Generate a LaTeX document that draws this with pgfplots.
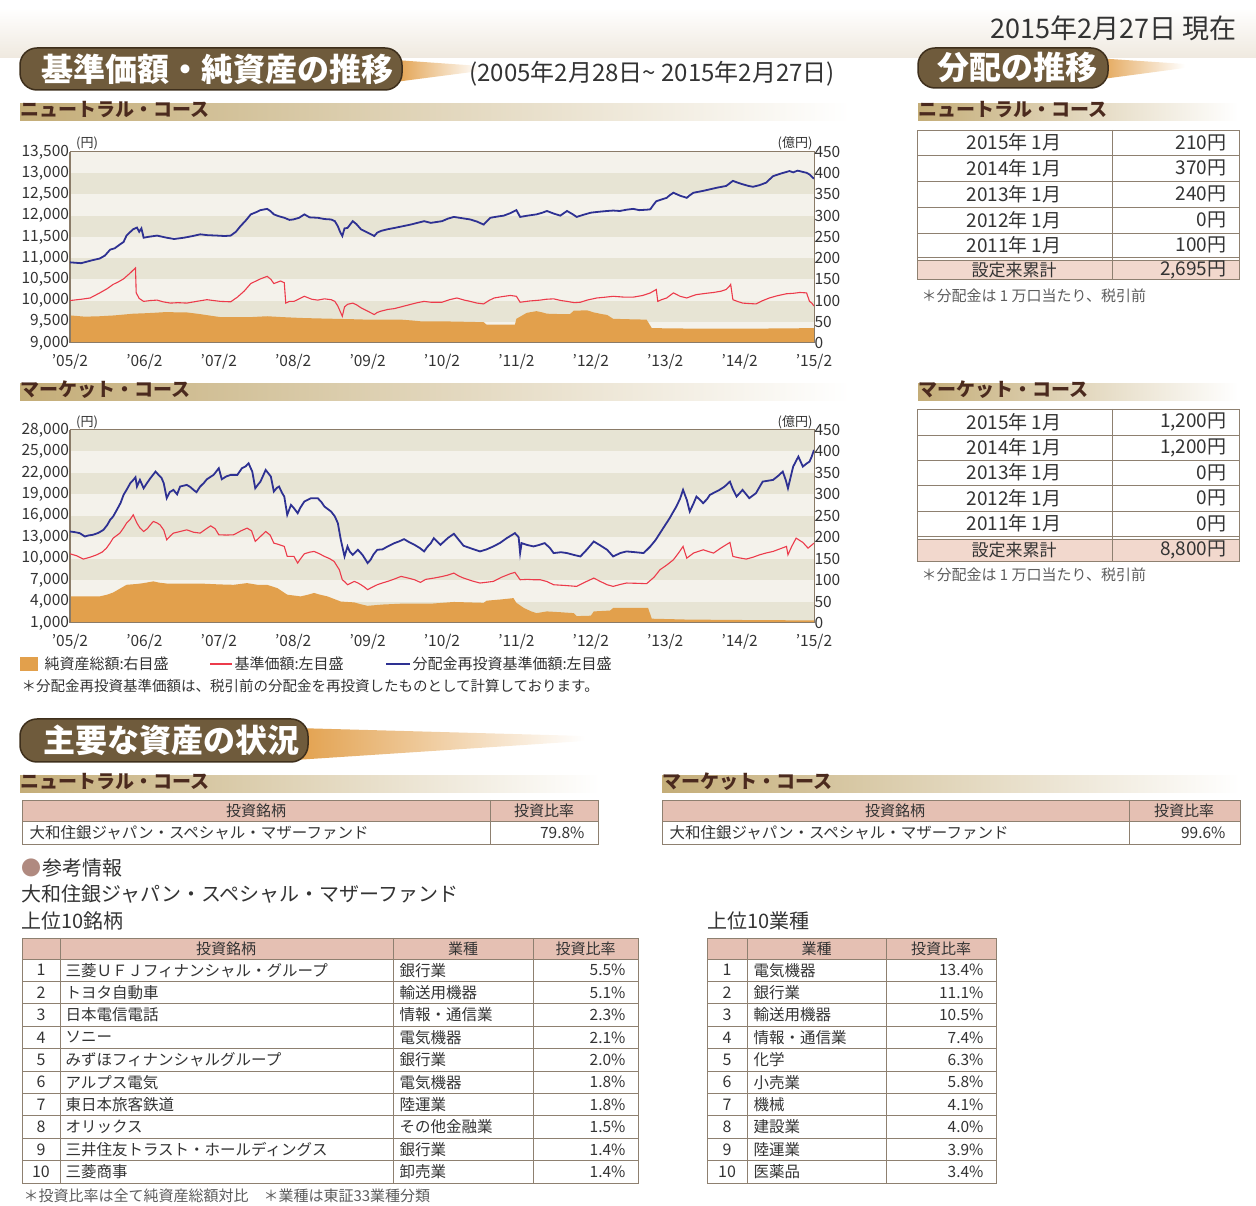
\documentclass[border=0pt]{standalone}
\usepackage{fontspec}
\setmainfont{Noto Sans CJK JP}
\usepackage{pgfplots}
\pgfplotsset{compat=1.18}
\definecolor{bandD}{HTML}{E7E4D4}
\definecolor{bandL}{HTML}{F4F2EB}
\definecolor{navy}{HTML}{2E3192}
\definecolor{redl}{HTML}{EC3B4B}
\definecolor{orng}{HTML}{E2A04C}
\definecolor{frame}{HTML}{8A7B68}
\definecolor{tline}{HTML}{8E8070}
\definecolor{pinkh}{HTML}{E5C0B3}
\definecolor{pinkr}{HTML}{F2D8CD}
\definecolor{subt}{HTML}{4B2A1E}
\definecolor{txt}{HTML}{333333}
\definecolor{brush}{HTML}{6F5B3C}
\definecolor{brushd}{HTML}{3E2F1C}
\definecolor{gold}{HTML}{C4AD78}
\definecolor{beige}{HTML}{EFE9DF}
\definecolor{dot}{HTML}{B08A80}
\newcommand\fs[1]{\fontsize{#1}{#1}\selectfont}
\pgfplotsset{
 chartR/.style={scale only axis, anchor=south west, width=744pt,
  xmin=0, xmax=10, ymin=0, ymax=450, ytick={0,50,...,450},
  xtick={0,...,10}, xticklabels={'05/2,'06/2,'07/2,'08/2,'09/2,'10/2,'11/2,'12/2,'13/2,'14/2,'15/2},
  yticklabel pos=right, axis line style={frame, line width=1pt},
  tick style={draw=none}, axis on top, scaled y ticks=false,
  ticklabel style={font=\fs{15.5}, text=txt},
  xticklabel style={yshift=-8pt},
  yticklabel style={xshift=-3pt},
  /pgf/number format/assume math mode=true},
 chartL/.style={scale only axis, anchor=south west, width=744pt,
  xmin=0, xmax=10, axis x line=none, axis y line*=left, xtick=\empty,
  axis line style={frame, line width=1pt}, tick style={draw=none},
  scaled y ticks=false,
  ticklabel style={font=\fs{15.5}, text=txt},
  yticklabel style={xshift=2.5pt},
  /pgf/number format/assume math mode=true,
  /pgf/number format/1000 sep={,}}
}
\begin{document}
\begin{tikzpicture}[x=1pt,y=1pt]
\useasboundingbox (0,0) rectangle (1256,1206);
% ---------------- Chart 1: neutral ----------------
\begin{axis}[chartR, at={(70pt,863pt)}, height=191pt]
\fill[bandL] (0,0) rectangle (10,50);
\fill[bandD] (0,50) rectangle (10,100);
\fill[bandL] (0,100) rectangle (10,150);
\fill[bandD] (0,150) rectangle (10,200);
\fill[bandL] (0,200) rectangle (10,250);
\fill[bandD] (0,250) rectangle (10,300);
\fill[bandL] (0,300) rectangle (10,350);
\fill[bandD] (0,350) rectangle (10,400);
\fill[bandL] (0,400) rectangle (10,450);
\addplot[fill=orng, draw=none] coordinates {(0,65) (0.2,62) (0.4,63) (0.6,65) (0.85,69) (1.0,70) (1.12,71) (1.3,73) (1.45,72) (1.57,72) (1.75,68) (1.9,64) (2.02,61) (2.2,61) (2.43,61) (2.65,63) (2.85,61) (3.1,59) (3.3,58) (3.55,57) (3.8,56) (4.0,55) (4.2,55) (4.45,55) (4.6,53) (4.72,51) (5.0,51) (5.3,50) (5.56,49) (5.6,43) (5.98,43) (6.0,57) (6.07,64) (6.14,71) (6.27,75) (6.35,72) (6.41,69) (6.6,68) (6.72,68) (6.77,76) (6.95,77) (7.04,72) (7.15,68) (7.22,66) (7.3,57) (7.5,56) (7.75,55) (7.82,35) (8.3,34) (8.73,34) (9.3,34) (10,35)} \closedcycle;
\end{axis}
\begin{axis}[chartL, at={(70pt,863pt)}, height=191pt, ymin=9000, ymax=13500, ytick={9000,9500,...,13500}]
\addplot[redl, line width=1.1pt] coordinates {(0,10000) (0.15,10030) (0.27,10060) (0.4,10180) (0.5,10280) (0.58,10380) (0.65,10440) (0.72,10510) (0.81,10650) (0.88,10770) (0.89,10180) (0.93,10050) (0.99,9980) (1.08,10000) (1.17,10010) (1.25,9970) (1.35,9940) (1.45,9950) (1.57,9940) (1.7,9980) (1.84,10020) (1.93,10000) (2.02,9980) (2.16,9970) (2.25,10080) (2.34,10220) (2.43,10400) (2.5,10460) (2.56,10510) (2.65,10570) (2.7,10500) (2.74,10400) (2.83,10460) (2.88,10420) (2.9,9940) (2.95,9980) (3.01,9980) (3.08,10040) (3.15,10100) (3.25,10030) (3.33,10010) (3.42,10040) (3.51,10020) (3.56,9980) (3.6,9870) (3.63,9750) (3.66,9630) (3.69,9850) (3.73,9910) (3.8,9940) (3.85,9900) (3.91,9830) (4.0,9750) (4.09,9670) (4.13,9720) (4.18,9750) (4.27,9790) (4.36,9810) (4.47,9860) (4.58,9910) (4.67,9950) (4.76,9980) (4.85,9960) (5.0,9960) (5.1,10020) (5.2,10060) (5.3,10010) (5.38,9980) (5.47,9940) (5.56,9920) (5.63,10000) (5.7,10060) (5.8,10090) (5.92,10120) (6.0,10100) (6.05,9960) (6.18,9990) (6.32,10010) (6.4,10030) (6.5,10040) (6.6,10000) (6.68,9980) (6.78,9950) (6.86,9960) (6.95,10010) (7.08,10060) (7.2,10080) (7.3,10100) (7.45,10080) (7.57,10080) (7.7,10120) (7.8,10180) (7.85,10230) (7.88,10260) (7.9,9980) (7.95,10020) (8.02,10060) (8.11,10180) (8.2,10100) (8.29,10060) (8.35,10100) (8.42,10140) (8.55,10170) (8.65,10190) (8.75,10220) (8.82,10260) (8.86,10330) (8.88,10380) (8.91,10020) (8.97,9980) (9.04,9940) (9.12,9930) (9.22,9920) (9.3,9990) (9.4,10060) (9.5,10110) (9.63,10160) (9.72,10170) (9.81,10190) (9.9,10180) (9.94,9980) (9.97,9940) (10.0,9870)};
\addplot[navy, line width=1.8pt] coordinates {(0,10900) (0.15,10880) (0.3,10950) (0.4,10990) (0.47,11060) (0.54,11200) (0.6,11230) (0.67,11320) (0.72,11380) (0.76,11530) (0.8,11600) (0.85,11680) (0.9,11720) (0.93,11620) (0.96,11700) (0.99,11480) (1.05,11500) (1.17,11530) (1.3,11480) (1.4,11450) (1.53,11480) (1.65,11520) (1.75,11560) (1.85,11540) (1.98,11530) (2.08,11520) (2.16,11530) (2.23,11620) (2.29,11750) (2.36,11880) (2.43,12030) (2.5,12080) (2.56,12130) (2.65,12160) (2.7,12100) (2.74,12030) (2.8,11990) (2.88,11950) (2.95,11900) (3.0,11910) (3.08,11950) (3.15,12030) (3.22,11960) (3.33,11950) (3.42,11920) (3.51,11910) (3.56,11870) (3.6,11750) (3.63,11620) (3.66,11520) (3.69,11700) (3.73,11710) (3.8,11870) (3.85,11800) (3.91,11680) (4.0,11600) (4.09,11520) (4.13,11600) (4.18,11640) (4.27,11680) (4.36,11710) (4.47,11750) (4.58,11790) (4.67,11830) (4.76,11870) (4.85,11830) (5.0,11870) (5.08,11930) (5.16,11970) (5.27,11940) (5.38,11910) (5.47,11860) (5.56,11790) (5.65,11950) (5.75,11980) (5.83,12000) (5.92,12060) (6.0,12130) (6.05,11970) (6.15,12000) (6.27,12030) (6.35,12070) (6.41,12110) (6.5,12050) (6.59,12000) (6.68,12110) (6.75,12040) (6.81,11970) (6.9,12020) (7.0,12070) (7.1,12090) (7.22,12110) (7.3,12120) (7.39,12110) (7.48,12140) (7.57,12160) (7.65,12130) (7.75,12140) (7.8,12150) (7.84,12250) (7.88,12340) (7.95,12380) (8.02,12420) (8.06,12480) (8.11,12540) (8.2,12470) (8.29,12420) (8.33,12480) (8.38,12540) (8.5,12580) (8.6,12620) (8.7,12660) (8.82,12700) (8.88,12780) (8.91,12820) (8.97,12780) (9.04,12740) (9.12,12700) (9.18,12680) (9.27,12720) (9.36,12780) (9.4,12850) (9.45,12930) (9.55,12990) (9.67,13050) (9.72,13020) (9.78,13060) (9.85,13030) (9.9,13010) (9.94,12970) (10.0,12870)};
\end{axis}
% ---------------- Chart 2: market ----------------
\begin{axis}[chartR, at={(70pt,583pt)}, height=193pt]
\fill[bandD] (0,0) rectangle (10,50);
\fill[bandL] (0,50) rectangle (10,100);
\fill[bandD] (0,100) rectangle (10,150);
\fill[bandL] (0,150) rectangle (10,200);
\fill[bandD] (0,200) rectangle (10,250);
\fill[bandL] (0,250) rectangle (10,300);
\fill[bandD] (0,300) rectangle (10,350);
\fill[bandL] (0,350) rectangle (10,400);
\fill[bandD] (0,400) rectangle (10,450);
\addplot[fill=orng, draw=none] coordinates {(0,62) (0.2,62) (0.4,62) (0.5,66) (0.58,71) (0.67,80) (0.76,89) (0.9,91) (0.99,93) (1.12,97) (1.2,94) (1.3,92) (1.5,92) (1.75,92) (2.0,90) (2.2,89) (2.38,93) (2.52,89) (2.65,89) (2.72,85) (2.79,81) (2.85,74) (2.92,66) (3.1,62) (3.2,66) (3.28,70) (3.36,66) (3.46,62) (3.55,56) (3.64,50) (3.82,48) (3.9,44) (4.0,40) (4.2,43) (4.45,45) (4.85,45) (5.16,49) (5.56,47) (5.6,52) (5.8,55) (5.96,58) (6.0,47) (6.1,35) (6.2,27) (6.27,23) (6.41,27) (6.6,25) (6.77,23) (6.81,16) (7.0,17) (7.04,27) (7.26,29) (7.3,35) (7.77,35) (7.82,10) (8.29,8) (9,7) (10,6)} \closedcycle;
\end{axis}
\begin{axis}[chartL, at={(70pt,583pt)}, height=193pt, ymin=1000, ymax=28000, ytick={1000,4000,...,28000}]
\addplot[redl, line width=1.1pt] coordinates {(0,10680) (0.09,10400) (0.18,9940) (0.27,10200) (0.36,10540) (0.43,10900) (0.49,11470) (0.54,12200) (0.58,12870) (0.67,13570) (0.72,14300) (0.76,14970) (0.81,15500) (0.85,16130) (0.9,14970) (0.94,14300) (0.99,13800) (1.04,14200) (1.08,14730) (1.12,15200) (1.17,15000) (1.21,14730) (1.26,14000) (1.3,12640) (1.35,13200) (1.39,13570) (1.48,13800) (1.57,14030) (1.66,13700) (1.75,13570) (1.82,14100) (1.89,14590) (1.95,14200) (2.0,13340) (2.1,13300) (2.2,13340) (2.3,13900) (2.38,14270) (2.44,13900) (2.49,12410) (2.55,13000) (2.63,13800) (2.69,13300) (2.74,12170) (2.8,12000) (2.88,11710) (2.92,10310) (3.01,10310) (3.06,9380) (3.1,10000) (3.15,10680) (3.22,10900) (3.28,11010) (3.35,10700) (3.42,10310) (3.49,10000) (3.55,9610) (3.62,8450) (3.66,7050) (3.7,6700) (3.73,6350) (3.78,6600) (3.82,6820) (3.87,6600) (3.91,6350) (3.96,6000) (4.0,5660) (4.06,6000) (4.13,6350) (4.2,6600) (4.27,6820) (4.36,7150) (4.45,7520) (4.54,7300) (4.63,7050) (4.71,6680) (4.78,7100) (4.89,7280) (5.0,7500) (5.08,7700) (5.16,7980) (5.22,7600) (5.29,7280) (5.4,6900) (5.51,6590) (5.6,6700) (5.69,6820) (5.8,7400) (5.92,7900) (5.98,8080) (6.05,7050) (6.15,7100) (6.23,7050) (6.32,7050) (6.41,6800) (6.5,6350) (6.65,6250) (6.81,6120) (6.92,6700) (7.04,7280) (7.13,6800) (7.22,6350) (7.3,6120) (7.4,6400) (7.48,6590) (7.62,6550) (7.75,6500) (7.85,7400) (7.93,8450) (8.02,9100) (8.11,9840) (8.18,10800) (8.24,11710) (8.29,10070) (8.38,10780) (8.51,11240) (8.58,11000) (8.65,10780) (8.75,11500) (8.87,12270) (8.91,10310) (9.0,10100) (9.09,9940) (9.18,10200) (9.27,10540) (9.36,10800) (9.45,11010) (9.55,11400) (9.63,11710) (9.65,10540) (9.7,11700) (9.76,12870) (9.85,12270) (9.92,11470) (10,12170)};
\addplot[navy, line width=1.8pt] coordinates {(0,13800) (0.07,13700) (0.13,13570) (0.2,13100) (0.25,13250) (0.31,13340) (0.38,13600) (0.45,14030) (0.5,14700) (0.54,15430) (0.58,15900) (0.63,16830) (0.68,17800) (0.72,18920) (0.77,19800) (0.81,20550) (0.85,21000) (0.88,21390) (0.9,20090) (0.94,21020) (0.99,19850) (1.03,20500) (1.08,21250) (1.15,22180) (1.19,21720) (1.23,21300) (1.26,20550) (1.3,18460) (1.34,19300) (1.39,19620) (1.44,19000) (1.48,20090) (1.57,20320) (1.62,20000) (1.66,19620) (1.7,19300) (1.75,20090) (1.8,20600) (1.84,21110) (1.93,21720) (2.0,22650) (2.04,21110) (2.1,21500) (2.16,21720) (2.25,21720) (2.31,22650) (2.36,22900) (2.4,23340) (2.45,22180) (2.49,19850) (2.53,20400) (2.56,20780) (2.63,22410) (2.7,21480) (2.74,19390) (2.78,19900) (2.81,20090) (2.85,19200) (2.88,18690) (2.92,16130) (2.97,17520) (3.01,17060) (3.06,16360) (3.1,17200) (3.15,17990) (3.24,18460) (3.33,18460) (3.38,17900) (3.42,17290) (3.51,16590) (3.56,15900) (3.6,14970) (3.64,12640) (3.69,10310) (3.73,11710) (3.76,11000) (3.8,10540) (3.87,11240) (3.93,10540) (3.97,9900) (4.0,9380) (4.04,9840) (4.08,10600) (4.13,11240) (4.2,11300) (4.27,11710) (4.36,12170) (4.42,12400) (4.49,12730) (4.56,12300) (4.63,11940) (4.7,11500) (4.76,11010) (4.8,11600) (4.85,12170) (4.89,12870) (4.98,11940) (5.08,12900) (5.16,13480) (5.22,12700) (5.29,11800) (5.4,11400) (5.51,11010) (5.6,11300) (5.69,11710) (5.78,12200) (5.87,12870) (5.98,13570) (6.03,13000) (6.05,10780) (6.07,12170) (6.15,11900) (6.23,11710) (6.3,11900) (6.38,12170) (6.45,11500) (6.5,10780) (6.6,10900) (6.68,10780) (6.78,10500) (6.86,10310) (6.95,11300) (7.04,12400) (7.12,11900) (7.22,11240) (7.3,10310) (7.4,10800) (7.48,11010) (7.6,10900) (7.71,10780) (7.8,11710) (7.87,12600) (7.93,13570) (8.0,14700) (8.06,15660) (8.1,16400) (8.15,17290) (8.2,18400) (8.24,19620) (8.29,18230) (8.33,16590) (8.38,17700) (8.42,18690) (8.47,18200) (8.51,17760) (8.56,18300) (8.6,18920) (8.67,19300) (8.73,19620) (8.8,20100) (8.87,20780) (8.91,19700) (8.96,18690) (9.04,19620) (9.13,18460) (9.22,19160) (9.31,20780) (9.38,20900) (9.45,21020) (9.52,21600) (9.58,22180) (9.62,21000) (9.65,19850) (9.72,22880) (9.79,24280) (9.85,22880) (9.9,23300) (9.94,23580) (9.97,24300) (10,25210)};
\end{axis}
% ---------------- page furniture (pixel coordinates, y downward) ----------------
\begin{scope}[shift={(0,1206)}, yscale=-1]
% top faded band
\shade[top color=white, bottom color=beige] (0,8) rectangle (1256,58);
\fill[white] (0,0) rectangle (1256,8);
% date
\node[anchor=east, text=txt, font=\fs{27}] at (1240,28) {2015年2月27日 現在};
% brush header 1
\shade[left color=orng, right color=white] (395,60) -- (480,66) -- (480,71) -- (395,82) -- cycle;
\fill[brush, rounded corners=17pt] (20,48) rectangle (402,90);
\draw[brushd, line width=1.5pt, rounded corners=17pt] (20,48) rectangle (402,90);
\node[anchor=west, text=white, font=\bfseries\fs{32}] at (38,69) {基準価額・純資産の推移};
\node[anchor=west, text=txt, font=\fs{24}] at (466,74) {(2005年2月28日\textasciitilde\ 2015年2月27日)};
% brush header 2
\shade[left color=orng, right color=white] (1095,58) -- (1185,64) -- (1185,68) -- (1095,80) -- cycle;
\fill[brush, rounded corners=17pt] (918,48) rectangle (1108,88);
\draw[brushd, line width=1.5pt, rounded corners=17pt] (918,48) rectangle (1108,88);
\node[anchor=west, text=white, font=\bfseries\fs{32}] at (934,67) {分配の推移};
% brush header 3
\shade[left color=orng, right color=white] (295,728) -- (585,736) -- (585,741) -- (295,760) -- cycle;
\fill[brush, rounded corners=17pt] (20,719) rectangle (308,762);
\draw[brushd, line width=1.5pt, rounded corners=17pt] (20,719) rectangle (308,762);
\node[anchor=west, text=white, font=\bfseries\fs{32}] at (40,740) {主要な資産の状況};
% sub headers with gradient bars
\foreach \x/\y/\xe/\t in {20/110/850/ニュートラル・コース, 20/390/850/マーケット・コース, 918/110/1238/ニュートラル・コース, 918/390/1238/マーケット・コース, 20/782/600/ニュートラル・コース, 662/782/1240/マーケット・コース}{
  \shade[left color=gold, right color=white] (\x,\y-6) rectangle (\xe,\y+11);
  \node[anchor=west, text=subt, font=\bfseries\fs{19}, inner sep=0pt] at (\x,\y) {\t};
}
% axis unit labels
\node[text=txt, font=\fs{13}] at (87,143) {(円)};
\node[text=txt, font=\fs{13}] at (795,143) {(億円)};
\node[text=txt, font=\fs{13}] at (87,422) {(円)};
\node[text=txt, font=\fs{13}] at (795,422) {(億円)};
% legend
\fill[orng] (20,657) rectangle (38,671);
\node[anchor=west, text=txt, font=\fs{15}] at (41,664) {純資産総額:右目盛};
\draw[redl, line width=1.2pt] (210,664) -- (232,664);
\node[anchor=west, text=txt, font=\fs{15}] at (231,664) {基準価額:左目盛};
\draw[navy, line width=2.2pt] (386,664) -- (410,664);
\node[anchor=west, text=txt, font=\fs{15}] at (409,664) {分配金再投資基準価額:左目盛};
\node[anchor=west, text=txt, font=\fs{14.5}] at (18,686) {＊分配金再投資基準価額は、税引前の分配金を再投資したものとして計算しております。};
% ---- distribution table: neutral ----
\fill[pinkr] (917,260) rectangle (1239,279);
\draw[tline, line width=0.9pt] (917,130) rectangle (1239,279);
\foreach \yy in {155,181,207,233,257,260}{\draw[tline, line width=0.9pt] (917,\yy) -- (1239,\yy);}
\draw[tline, line width=0.9pt] (1112,130) -- (1112,279);
\foreach \a/\b/\yy in {{2015年 1月}/{210円}/142.5, {2014年 1月}/{370円}/168, {2013年 1月}/{240円}/194, {2012年 1月}/{0円}/220, {2011年 1月}/{100円}/245}{
  \node[text=txt, font=\fs{19}] at (1014,\yy) {\a};
  \node[anchor=east, text=txt, font=\fs{19}] at (1230,\yy) {\b};
}
\node[text=txt, font=\fs{17}] at (1014,270) {設定来累計};
\node[anchor=east, text=txt, font=\fs{19}] at (1230,270) {2,695円};
\node[anchor=west, text=txt!80, font=\fs{15}] at (918,296) {＊分配金は 1 万口当たり、税引前};
% ---- distribution table: market ----
\fill[pinkr] (917,539) rectangle (1239,561);
\draw[tline, line width=0.9pt] (917,409) rectangle (1239,561);
\foreach \yy in {435,460,485,511,536,539}{\draw[tline, line width=0.9pt] (917,\yy) -- (1239,\yy);}
\draw[tline, line width=0.9pt] (1112,409) -- (1112,561);
\foreach \a/\b/\yy in {{2015年 1月}/{1,200円}/422, {2014年 1月}/{1,200円}/447.5, {2013年 1月}/{0円}/472.5, {2012年 1月}/{0円}/498, {2011年 1月}/{0円}/523.5}{
  \node[text=txt, font=\fs{19}] at (1014,\yy) {\a};
  \node[anchor=east, text=txt, font=\fs{19}] at (1230,\yy) {\b};
}
\node[text=txt, font=\fs{17}] at (1014,550) {設定来累計};
\node[anchor=east, text=txt, font=\fs{19}] at (1230,550) {8,800円};
\node[anchor=west, text=txt!80, font=\fs{15}] at (918,575) {＊分配金は 1 万口当たり、税引前};
% ---- holdings tables ----
\fill[pinkh] (22,800) rectangle (598,821);
\draw[tline, line width=0.9pt] (22,800) rectangle (598,844);
\draw[tline, line width=0.9pt] (22,821) -- (598,821) (490,800) -- (490,844);
\node[text=txt, font=\fs{15}] at (256,810.5) {投資銘柄};
\node[text=txt, font=\fs{15}] at (544,810.5) {投資比率};
\node[anchor=west, text=txt, font=\fs{15.5}] at (26,832.5) {大和住銀ジャパン・スペシャル・マザーファンド};
\node[anchor=east, text=txt, font=\fs{15.5}] at (588,832.5) {79.8\%};
\fill[pinkh] (662,800) rectangle (1240,821);
\draw[tline, line width=0.9pt] (662,800) rectangle (1240,844);
\draw[tline, line width=0.9pt] (662,821) -- (1240,821) (1129,800) -- (1129,844);
\node[text=txt, font=\fs{15}] at (895,810.5) {投資銘柄};
\node[text=txt, font=\fs{15}] at (1184,810.5) {投資比率};
\node[anchor=west, text=txt, font=\fs{15.5}] at (666,832.5) {大和住銀ジャパン・スペシャル・マザーファンド};
\node[anchor=east, text=txt, font=\fs{15.5}] at (1229,832.5) {99.6\%};
% reference info
\node[anchor=west, text=dot, font=\fs{20}, inner sep=0pt] at (21,868) {●};
\node[anchor=west, text=txt, font=\fs{20}, inner sep=0pt] at (42,868) {参考情報};
\node[anchor=west, text=txt, font=\fs{20}, inner sep=0pt] at (21,894) {大和住銀ジャパン・スペシャル・マザーファンド};
\node[anchor=west, text=txt, font=\fs{20}, inner sep=0pt] at (21,921) {上位10銘柄};
\node[anchor=west, text=txt, font=\fs{20}, inner sep=0pt] at (707,921) {上位10業種};
% top10 stocks
\fill[pinkh] (22,938) rectangle (638,959);
\draw[tline, line width=0.9pt] (22,938) rectangle (638,1183);
\draw[tline, line width=0.9pt] (22,959) -- (638,959);
\foreach \k in {1,...,9}{\draw[tline, line width=0.7pt] (22,{959+22.4*\k}) -- (638,{959+22.4*\k});}
\draw[tline, line width=0.9pt] (60,938) -- (60,1183) (393,938) -- (393,1183) (533,938) -- (533,1183);
\node[text=txt, font=\fs{15}] at (226,948.5) {投資銘柄};
\node[text=txt, font=\fs{15}] at (463,948.5) {業種};
\node[text=txt, font=\fs{15}] at (585.5,948.5) {投資比率};
\foreach \nm/\ind/\r [count=\k] in {三菱ＵＦＪフィナンシャル・グループ/銀行業/5.5, トヨタ自動車/輸送用機器/5.1, 日本電信電話/情報・通信業/2.3, ソニー/電気機器/2.1, みずほフィナンシャルグループ/銀行業/2.0, アルプス電気/電気機器/1.8, 東日本旅客鉄道/陸運業/1.8, オリックス/その他金融業/1.5, 三井住友トラスト・ホールディングス/銀行業/1.4, 三菱商事/卸売業/1.4}{
  \pgfmathsetmacro\yy{959+22.4*(\k-0.5)}
  \node[text=txt, font=\fs{16}] at (41,\yy) {\k};
  \node[anchor=west, text=txt, font=\fs{15.5}] at (62,\yy) {\nm};
  \node[anchor=west, text=txt, font=\fs{15.5}] at (396,\yy) {\ind};
  \node[anchor=east, text=txt, font=\fs{15.5}] at (629,\yy) {\r\%};
}
% top10 industries
\fill[pinkh] (707,938) rectangle (996,959);
\draw[tline, line width=0.9pt] (707,938) rectangle (996,1183);
\draw[tline, line width=0.9pt] (707,959) -- (996,959);
\foreach \k in {1,...,9}{\draw[tline, line width=0.7pt] (707,{959+22.4*\k}) -- (996,{959+22.4*\k});}
\draw[tline, line width=0.9pt] (747,938) -- (747,1183) (886,938) -- (886,1183);
\node[text=txt, font=\fs{15}] at (816.5,948.5) {業種};
\node[text=txt, font=\fs{15}] at (941,948.5) {投資比率};
\foreach \ind/\r [count=\k] in {電気機器/13.4, 銀行業/11.1, 輸送用機器/10.5, 情報・通信業/7.4, 化学/6.3, 小売業/5.8, 機械/4.1, 建設業/4.0, 陸運業/3.9, 医薬品/3.4}{
  \pgfmathsetmacro\yy{959+22.4*(\k-0.5)}
  \node[text=txt, font=\fs{16}] at (727,\yy) {\k};
  \node[anchor=west, text=txt, font=\fs{15.5}] at (750,\yy) {\ind};
  \node[anchor=east, text=txt, font=\fs{15.5}] at (987,\yy) {\r\%};
}
\node[anchor=west, text=txt!80, font=\fs{15}] at (20,1196) {＊投資比率は全て純資産総額対比　＊業種は東証33業種分類};
\end{scope}
\end{tikzpicture}
\end{document}
